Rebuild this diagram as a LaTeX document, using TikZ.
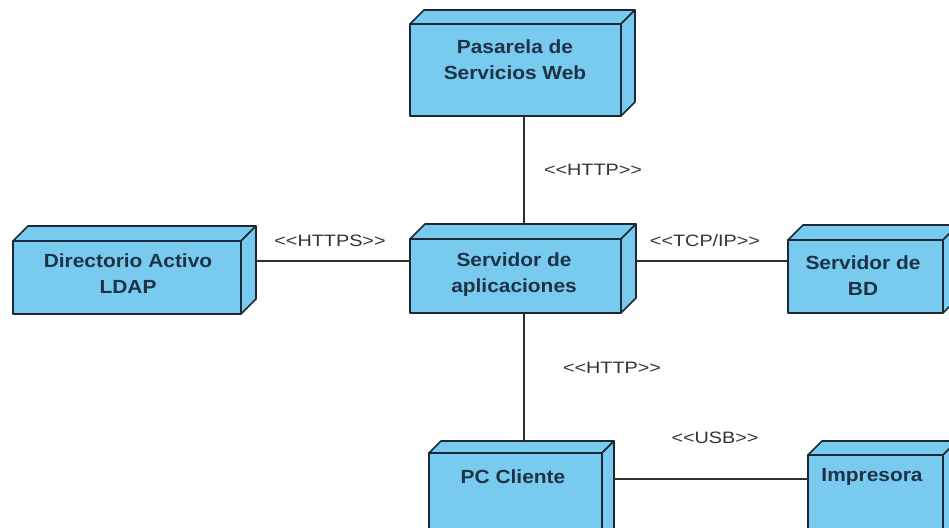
\documentclass[tikz,border=0pt]{standalone}
\usepackage{fontspec}
\setmainfont{Liberation Sans}
\newfontfamily\nodefont{Liberation Sans}[FakeStretch=1.1]
\newfontfamily\lblfont{Liberation Sans}[FakeStretch=1.2]
\definecolor{nodefill}{HTML}{78CBEF}
\definecolor{nodeborder}{HTML}{1A2838}
\definecolor{nodetext}{HTML}{1E3247}
\definecolor{conncol}{HTML}{2E2E2E}
\definecolor{lblcol}{HTML}{333333}
\tikzset{
  boxface/.style={draw=nodeborder, fill=nodefill, line width=1.6pt, line join=round, inner sep=0pt, outer sep=0pt},
  conn/.style={draw=conncol, line width=1.4pt},
  ntext/.style={text=nodetext, font=\nodefont\bfseries\fontsize{19}{26}\selectfont, align=center, inner sep=0pt},
  lbl/.style={text=lblcol, font=\lblfont\fontsize{16.5}{20}\selectfont, inner sep=0pt}
}
% name, center x, center y, width, height, depth
\newcommand\udnode[6]{%
  \node[boxface, minimum width=#4pt, minimum height=#5pt] (#1) at (#2,#3) {};
  \draw[boxface] (#1.north west) -- ++(#6,-#6) -- ([shift={(#6,-#6)}]#1.north east) -- (#1.north east) -- cycle;
  \draw[boxface] (#1.north east) -- ++(#6,-#6) -- ([shift={(#6,-#6)}]#1.south east) -- (#1.south east) -- cycle;
}
\begin{document}
\begin{tikzpicture}[x=1pt,y=-1pt]
\useasboundingbox (0,0) rectangle (949,527);
\clip (0,0) rectangle (949,527);
\fill[white] (0,0) rectangle (949,527);

\udnode{pas}{515.5}{70}{211}{92}{14}
\udnode{dir}{127}{277.5}{228}{73}{15}
\udnode{app}{515.5}{276}{211}{74}{15}
\udnode{bd}{865.5}{276.5}{155}{73}{15}
\udnode{pc}{515.5}{506.5}{173}{107}{12}
\udnode{imp}{875.5}{507.5}{135}{105}{14}

\node[ntext] (pasT) at (515,60) {Pasarela de\\Servicios Web};
\node[ntext] (dirT) at (128,274) {Directorio Activo\\LDAP};
\node[ntext] (appT) at (514,275) {Servidor de\\aplicaciones};
\node[ntext] (bdT) at (863,276) {Servidor de\\BD};
\node[ntext] (pcT) at (513,477) {PC Cliente};
\node[ntext] (impT) at (872,477) {Impresora};

\draw[conn] ([xshift=8.5pt]pas.south) -- ([xshift=8.5pt,yshift=14pt]app.north);
\draw[conn] ([xshift=8.5pt]app.south) -- ([xshift=8.5pt,yshift=12pt]pc.north);
\draw[conn] ([xshift=15pt,yshift=16.5pt]dir.east) -- ([yshift=15pt]app.west);
\draw[conn] ([xshift=15pt,yshift=15pt]app.east) -- ([yshift=15.5pt]bd.west);
\draw[conn] ([xshift=12pt,yshift=27.5pt]pc.east) -- ([yshift=28.5pt]imp.west);

\node[lbl] (l1) at (593,170) {<<HTTP>>};
\node[lbl] (l2) at (330,241) {<<HTTPS>>};
\node[lbl] (l3) at (705,241) {<<TCP/IP>>};
\node[lbl] (l4) at (612,368) {<<HTTP>>};
\node[lbl] (l5) at (715,438) {<<USB>>};
\end{tikzpicture}
\end{document}
